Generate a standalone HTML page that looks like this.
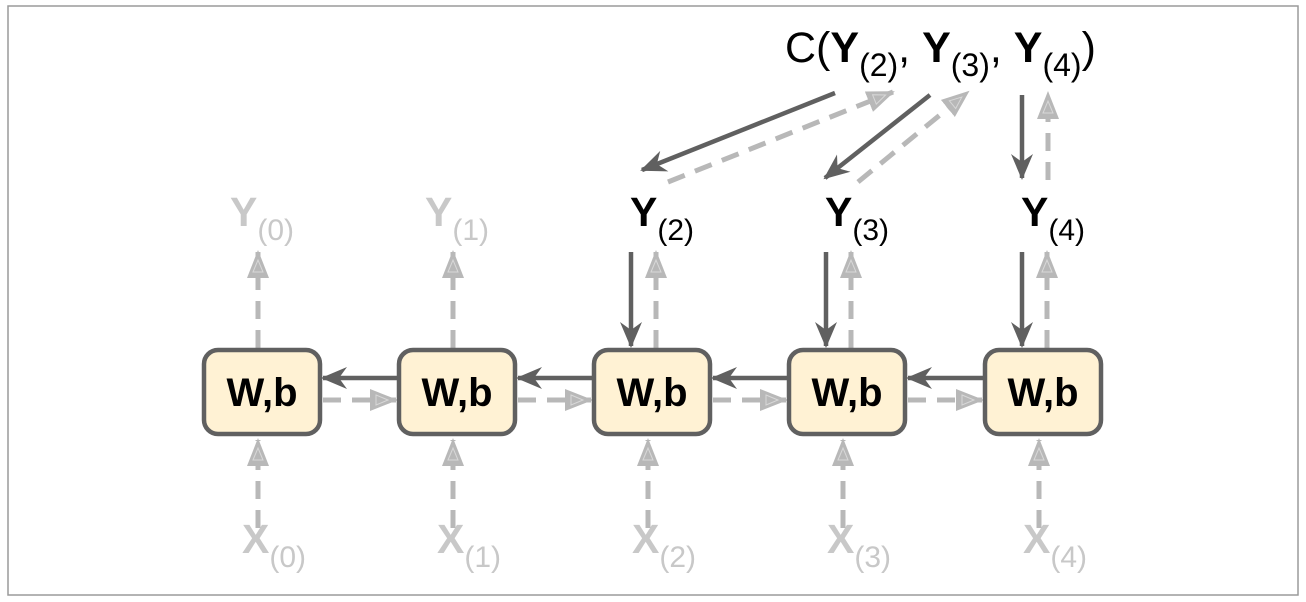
<!DOCTYPE html>
<html><head><meta charset="utf-8"><style>
html,body{margin:0;padding:0;background:#fff}
svg{display:block}
text{font-family:"Liberation Sans",Arial,sans-serif}
</style></head><body>
<svg id="d" width="1306" height="602" viewBox="0 0 1306 602">
<defs>
<marker id="hd" viewBox="0 0 26 22" refX="24" refY="11" markerWidth="26" markerHeight="22" markerUnits="userSpaceOnUse" orient="auto">
<path d="M0,0 L26,11 L0,22 L8,11 Z" fill="#606060"/></marker>
<marker id="hl" viewBox="0 0 28 22" refX="26" refY="11" markerWidth="28" markerHeight="22" markerUnits="userSpaceOnUse" orient="auto">
<path d="M0,0 L28,11 L0,22 Z" fill="#b8b8b8"/><path d="M6,6 L18,11 L6,16 Z" fill="none" stroke="#d8d8d8" stroke-width="1"/></marker>
</defs>
<rect x="8" y="6" width="1290" height="589" fill="#fff" stroke="#9a9a9a" stroke-width="1.5"/>
<g id="g"></g>
<text x="785" y="62" font-size="43" fill="#000">C(<tspan font-weight="bold">Y</tspan><tspan font-size="32" dy="14">(2)</tspan><tspan dy="-14">, </tspan><tspan font-weight="bold">Y</tspan><tspan font-size="32" dy="14">(3)</tspan><tspan dy="-14">, </tspan><tspan font-weight="bold">Y</tspan><tspan font-size="32" dy="14">(4)</tspan><tspan dy="-14">)</tspan></text>
</svg>
<script>
const steps=[0,1,2,3,4];
const centers=[262,457,652,847,1043];
const active=[false,false,true,true,true];
const NS="http://www.w3.org/2000/svg";
const g=document.getElementById('g');
function el(t,a){const e=document.createElementNS(NS,t);for(const k in a)e.setAttribute(k,a[k]);g.appendChild(e);return e;}
function line(x1,y1,x2,y2,dash){return el('line',{x1,y1,x2,y2,stroke:dash?'#b8b8b8':'#606060','stroke-width':dash?5:4.5,'stroke-dasharray':dash?'18 11':'none','marker-end':dash?'url(#hl)':'url(#hd)'});}
function label(x,y,letter,sub,color,name){const t=el('text',{x,y,'font-size':41,fill:color});t.innerHTML='<tspan font-weight="bold">'+letter+'</tspan><tspan font-size="30" dy="14">('+sub+')</tspan>';

return t;}
steps.forEach((s,i)=>{
 const cx=centers[i];
 if(i<steps.length-1){const nx=centers[i+1];
  let a=line(nx-59,378,cx+61,378,false);
  
  
  let b=line(cx+61,400,nx-61,400,true);
  
  }
 let xi=line(cx-4,528,cx-4,440,true);
 
 
 label(cx-20,553,'X',s,'#c8c8c8','x-label-'+s);
 if(active[i]){
  let d=line(cx-21,252,cx-21,346,false);
  
  
  let u=line(cx+4,348,cx+4,252,true);
  
  
  label(cx-22,226,'Y',s,'#000','y-label-'+s);
 } else {
  let u=line(cx-4,348,cx-4,252,true);
  
  
  label(cx-32,226,'Y',s,'#c8c8c8','y-label-'+s);
 }
 const r=el('rect',{x:cx-58,y:350,width:116,height:84,rx:14,fill:'#fff2d4',stroke:'#606060','stroke-width':4.5});
 
 
 const t=el('text',{x:cx,y:406,'font-size':40,'font-weight':'bold','text-anchor':'middle',fill:'#000'});
 t.textContent='W,b';
 
 
});
const c1=line(835,93,642,170,false);
const c2=line(668,182,893,92,true);
const c3=line(930,95,825,178,false);
const c4=line(858,182,968,92,true);
const c5=line(1022,95,1022,178,false);
const c6=line(1048,180,1048,93,true);
</script>
</body></html>
